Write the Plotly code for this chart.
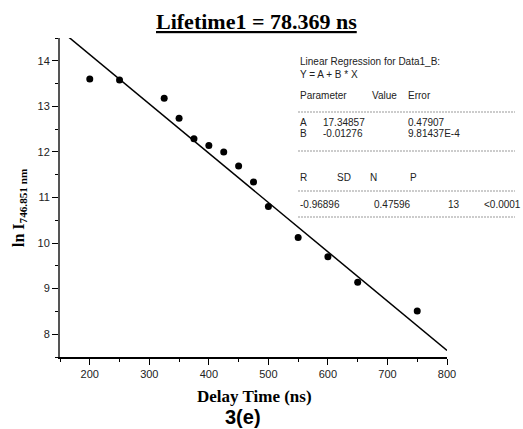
import plotly.graph_objects as go

# ---- data ----
delay_ns = [200, 250, 325, 350, 375, 400, 425, 450, 475, 500, 550, 600, 650, 750]
ln_intensity = [13.60, 13.58, 13.18, 12.74, 12.29, 12.14, 12.00, 11.69, 11.34, 10.80, 10.12, 9.70, 9.14, 8.51]

# drawn regression line (as it appears in the figure)
line_intercept = 16.30
line_slope = -0.01082
line_x = [150, 800]
line_y = [line_intercept + line_slope * x for x in line_x]

x_ticks = [200, 300, 400, 500, 600, 700, 800]
y_ticks = [8, 9, 10, 11, 12, 13, 14]

# fit report text
report_rows = [
    ("Linear Regression for Data1_B:", 298, 62),
    ("Y = A + B * X", 298, 74),
    ("Parameter", 298, 96), ("Value", 370, 96), ("Error", 406, 96),
    ("A", 298, 123), ("17.34857", 321, 123), ("0.47907", 406, 123),
    ("B", 298, 133), ("-0.01276", 321, 133), ("9.81437E-4", 406, 133),
    ("R", 298, 177), ("SD", 335, 177), ("N", 368, 177), ("P", 408, 177),
    ("-0.96896", 298, 204), ("0.47596", 372, 204), ("13", 446, 204), ("&lt;0.0001", 482, 204),
]
separator_rows = [112, 151, 191, 217]

W, H = 523, 429
L, R, T, B = 60, 76, 38, 72


def px_x(px):
    return (px - L) / (W - L - R)


def px_y(py):
    return (H - B - py) / (H - T - B)


fig = go.Figure()
fig.add_trace(go.Scatter(x=line_x, y=line_y, mode="lines",
                         line=dict(color="black", width=1.5), showlegend=False))
fig.add_trace(go.Scatter(x=delay_ns, y=ln_intensity, mode="markers",
                         marker=dict(color="black", size=7), showlegend=False))

annotations = []
for txt, x, y in report_rows:
    annotations.append(dict(text=txt, x=px_x(x), y=px_y(y), xref="paper", yref="paper",
                            xanchor="left", yanchor="middle", showarrow=False,
                            font=dict(family="Liberation Sans, Arial", size=10, color="#222")))

annotations.append(dict(text="<b><u>Lifetime1 = 78.369 ns</u></b>", x=px_x(256), y=px_y(21),
                        xref="paper", yref="paper", xanchor="center", yanchor="middle",
                        showarrow=False,
                        font=dict(family="Liberation Serif, Times New Roman", size=22, color="black")))
annotations.append(dict(text="<b>Delay Time (ns)</b>", x=px_x(254), y=px_y(396),
                        xref="paper", yref="paper", xanchor="center", yanchor="middle",
                        showarrow=False,
                        font=dict(family="Liberation Serif, Times New Roman", size=17, color="black")))
annotations.append(dict(text="<b>3(e)</b>", x=px_x(243), y=px_y(417),
                        xref="paper", yref="paper", xanchor="center", yanchor="middle",
                        showarrow=False,
                        font=dict(family="Liberation Sans, Arial", size=20, color="black")))
annotations.append(dict(text="<b>ln I<sub>746.851 nm</sub></b>", x=px_x(19), y=px_y(208),
                        xref="paper", yref="paper", xanchor="center", yanchor="middle",
                        textangle=-90, showarrow=False,
                        font=dict(family="Liberation Serif, Times New Roman", size=16, color="black")))

shapes = []
for yy in separator_rows:
    shapes.append(dict(type="line", xref="paper", yref="paper",
                       x0=px_x(298), x1=px_x(515), y0=px_y(yy), y1=px_y(yy),
                       line=dict(color="#999", width=1, dash="2px,1px")))

fig.update_layout(
    width=W, height=H, autosize=False,
    margin=dict(l=L, r=R, t=T, b=B),
    paper_bgcolor="white", plot_bgcolor="white",
    annotations=annotations, shapes=shapes,
    xaxis=dict(range=[150, 800], tickvals=x_ticks, ticks="outside", ticklen=6,
               tickcolor="black", tickwidth=1, showline=True, linecolor="black",
               linewidth=1.5, showgrid=False, zeroline=False,
               tickfont=dict(family="Liberation Sans, Arial", size=11, color="#222"),
               minor=dict(dtick=50, ticks="outside", ticklen=3, tickcolor="black")),
    yaxis=dict(range=[7.5, 14.5], tickvals=y_ticks, ticks="outside", ticklen=6,
               tickcolor="black", tickwidth=1, showline=True, linecolor="#555",
               linewidth=2, showgrid=False, zeroline=False,
               tickfont=dict(family="Liberation Sans, Arial", size=11, color="#222"),
               minor=dict(dtick=0.5, ticks="outside", ticklen=3, tickcolor="black")),
)

fig.write_html("out.html")
